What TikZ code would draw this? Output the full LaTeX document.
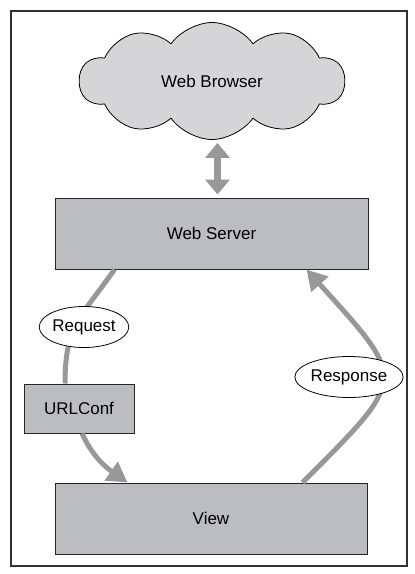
\documentclass[tikz,border=0pt]{standalone}
\usepackage{fontspec}
\setmainfont{Liberation Sans}
\usepackage{tikz}
\usetikzlibrary{positioning}
\usetikzlibrary{arrows.meta}
\usetikzlibrary{shapes}
\definecolor{boxgray}{RGB}{188,189,192}
\definecolor{cloudgray}{RGB}{213,213,215}
\definecolor{flowgray}{RGB}{152,152,155}
\tikzset{
        treenode/.style={align=center,inner sep=0pt,font=\fontsize{17}{20}\selectfont},
        % Component boxes
        node_box/.style={treenode, rectangle, draw=black!85, fill=boxgray, line width=1pt},
        % Browser cloud
        node_cloud/.style={treenode, cloud, cloud puffs=10, cloud puff arc=110, cloud ignores aspect, draw=black, fill=cloudgray, line width=0.8pt, minimum width=265pt, minimum height=117pt},
        % Labels on the flow
        node_label/.style={treenode, ellipse, draw=black, fill=white, line width=0.8pt, minimum height=41pt}
}

\begin{document}
\begin{tikzpicture}[
            x=1pt, y=1pt,
            flow/.style={draw=flowgray, line width=5pt},
            flow_tip/.style={flow, -{Triangle[length=20pt,width=22pt]}},
            link/.style={draw=flowgray, line width=7pt, {Triangle[length=15pt,width=24pt]}-{Triangle[length=15pt,width=24pt]}}
        ]
            \useasboundingbox (0,0) rectangle (415,-574);
            \draw[black!80, line width=1.2pt] (11,-11) rectangle (407,-566);
            \node[node_cloud] (browser) at (212,-81) {Web Browser};
            \node[node_box, minimum width=313pt, minimum height=71pt] (server) at (211.5,-233.5) {Web Server};
            \node[node_box, minimum width=312pt, minimum height=71pt] (view) at (211,-518.5) {View};
            \node[node_box, minimum width=110pt, minimum height=49pt] (urlconf) at (79,-408.5) {URLConf};
            \draw[link, shorten >=3pt, shorten <=3pt] ([xshift=6pt]server.north) -- ([xshift=6pt]server.north |- browser.south);
            \draw[flow] ([xshift=60pt]server.south west) to[out=-125, in=90, looseness=1.2] ([xshift=-14pt]urlconf.north);
            \draw[flow_tip] ([xshift=3pt]urlconf.south) to[out=-65, in=145] ([xshift=73pt]view.north west);
            \draw[flow_tip] ([xshift=248pt]view.north west) to[out=45, in=-48, looseness=1.8] ([xshift=252pt]server.south west);
            \node[node_label, minimum width=86pt] (request) at (84,-327) {Request};
            \node[node_label, minimum width=90pt] (response) at (349,-377) {Response};
        \end{tikzpicture}
\end{document}
